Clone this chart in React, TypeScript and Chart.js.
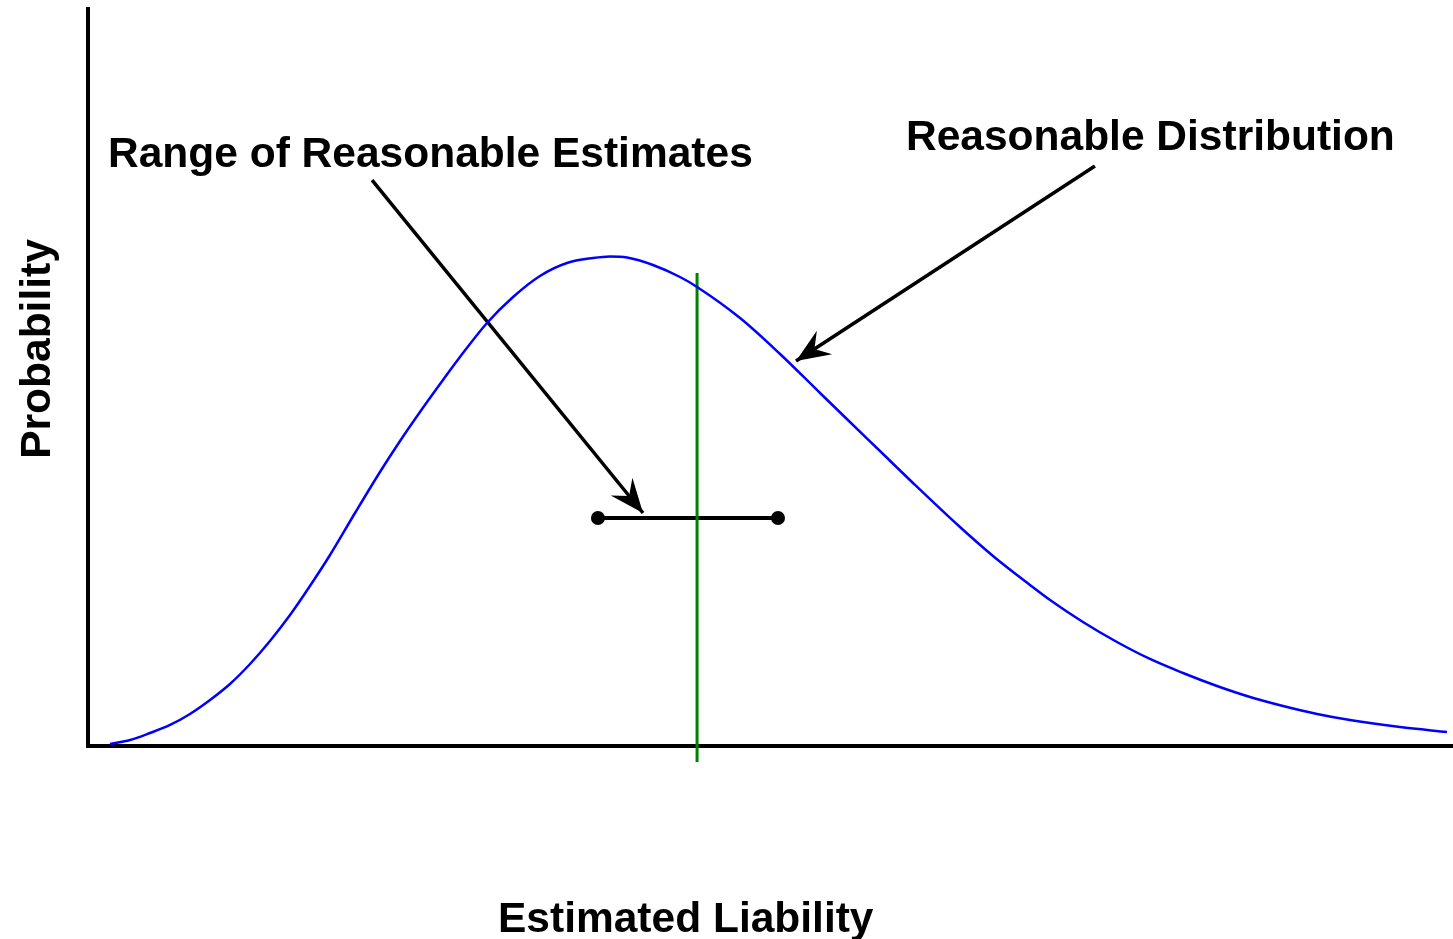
import React, { useEffect, useRef } from "react";
import { Chart, registerables } from "chart.js";

Chart.register(...registerables);

// Distribution curve (x: estimated liability, y: probability)
const curveX = [1.61, 3.08, 4.54, 6.01, 7.47, 8.94, 10.4, 11.87, 13.33, 14.8, 16.26, 17.73, 19.56, 21.39, 22.86, 24.32, 25.79, 27.25, 29.23, 31.14, 33.11, 35.09, 37.0, 38.24, 39.49, 41.39, 43.37, 44.62, 47.77, 50.7, 53.63, 55.82, 58.02, 60.44, 63.88, 66.3, 69.01, 70.48, 72.89, 75.38, 77.8, 80.22, 82.71, 85.13, 87.55, 90.04, 92.45, 96.12, 99.56];
const curveY = [0.27, 0.81, 1.76, 2.85, 4.34, 6.23, 8.4, 11.11, 14.23, 17.75, 21.68, 25.88, 31.57, 37.13, 41.33, 45.26, 49.05, 52.71, 57.32, 60.84, 63.69, 65.45, 66.12, 66.33, 66.19, 65.18, 63.55, 62.2, 57.99, 53.12, 47.83, 43.9, 39.97, 35.64, 29.67, 25.75, 21.82, 19.78, 16.8, 14.09, 11.79, 9.89, 8.13, 6.64, 5.42, 4.34, 3.52, 2.57, 1.9];

// Point estimate (green line)
const estimateX = 44.62;
const estimateY = [64.09, -2.17];

// Range of reasonable estimates
const rangeX = [37.36, 50.55];
const rangeY = 30.89;

// Arrows [fromX, fromY, toX, toY]
const arrowRange = [20.81, 76.69, 40.66, 31.57];
const arrowDist = [73.77, 78.59, 51.87, 52.17];

const labels = {
  range: "Range of Reasonable Estimates",
  dist: "Reasonable Distribution",
  xTitle: "Estimated Liability",
  yTitle: "Probability",
};

const FONT = 'bold 42.5px "Liberation Sans", Arial, sans-serif';

const overlayPlugin = {
  id: "overlay",
  beforeDatasetsDraw(chart: any) {
    const { ctx, chartArea } = chart;
    ctx.save();
    ctx.strokeStyle = "#000";
    ctx.lineWidth = 4;
    ctx.beginPath();
    ctx.moveTo(chartArea.left, chartArea.top - 1);
    ctx.lineTo(chartArea.left, chartArea.bottom + 2);
    ctx.moveTo(chartArea.left - 2, chartArea.bottom);
    ctx.lineTo(chartArea.right, chartArea.bottom);
    ctx.stroke();
    ctx.restore();
  },
  afterDatasetsDraw(chart: any) {
    const { ctx } = chart;
    const xs = chart.scales.x;
    const ys = chart.scales.y;
    const head = (a: number[]) => {
      const x0 = xs.getPixelForValue(a[0]);
      const y0 = ys.getPixelForValue(a[1]);
      const x1 = xs.getPixelForValue(a[2]);
      const y1 = ys.getPixelForValue(a[3]);
      const ang = Math.atan2(y1 - y0, x1 - x0);
      const L = 34;
      const W = 14;
      const N = 22;
      const cos = Math.cos(ang);
      const sin = Math.sin(ang);
      const bx = x1 - L * cos;
      const by = y1 - L * sin;
      const nx = x1 - N * cos;
      const ny = y1 - N * sin;
      ctx.save();
      ctx.fillStyle = "#000";
      ctx.beginPath();
      ctx.moveTo(x1, y1);
      ctx.lineTo(bx - W * sin, by + W * cos);
      ctx.lineTo(nx, ny);
      ctx.lineTo(bx + W * sin, by - W * cos);
      ctx.closePath();
      ctx.fill();
      ctx.restore();
    };
    head(arrowRange);
    head(arrowDist);

    ctx.save();
    ctx.fillStyle = "#000";
    ctx.font = FONT;
    ctx.textBaseline = "alphabetic";
    ctx.textAlign = "left";
    ctx.fillText(labels.range, 108, 167);
    ctx.fillText(labels.dist, 906, 150);
    ctx.fillText(labels.xTitle, 498, 932);
    ctx.translate(50, 349);
    ctx.rotate(-Math.PI / 2);
    ctx.textAlign = "center";
    ctx.fillText(labels.yTitle, 0, 0);
    ctx.restore();
  },
};

export default function App() {
  const ref = useRef<HTMLCanvasElement | null>(null);
  useEffect(() => {
    if (!ref.current) return;
    const chart = new Chart(ref.current, {
      type: "scatter",
      data: {
        datasets: [
          {
            data: curveX.map((x, i) => ({ x, y: curveY[i] })),
            showLine: true,
            borderColor: "#0000ff",
            borderWidth: 2.5,
            pointRadius: 0,
            cubicInterpolationMode: "monotone",
            fill: false,
          },
          {
            data: estimateY.map((y) => ({ x: estimateX, y })),
            showLine: true,
            borderColor: "#008000",
            borderWidth: 3,
            pointRadius: 0,
            clip: false,
          } as any,
          {
            data: rangeX.map((x) => ({ x, y: rangeY })),
            showLine: true,
            borderColor: "#000",
            backgroundColor: "#000",
            borderWidth: 4,
            pointRadius: 7,
            pointBorderWidth: 0,
          },
          {
            data: [
              { x: arrowRange[0], y: arrowRange[1] },
              { x: arrowRange[2], y: arrowRange[3] },
            ],
            showLine: true,
            borderColor: "#000",
            borderWidth: 3.5,
            pointRadius: 0,
          },
          {
            data: [
              { x: arrowDist[0], y: arrowDist[1] },
              { x: arrowDist[2], y: arrowDist[3] },
            ],
            showLine: true,
            borderColor: "#000",
            borderWidth: 3.5,
            pointRadius: 0,
          },
        ],
      },
      options: {
        responsive: false,
        animation: false,
        devicePixelRatio: 1,
        layout: { autoPadding: false, padding: { left: 88, top: 8, right: 0, bottom: 193 } },
        plugins: { legend: { display: false }, tooltip: { enabled: false } },
        events: [],
        scales: {
          x: { type: "linear", min: 0, max: 100, display: false },
          y: { type: "linear", min: 0, max: 100, display: false },
        },
      },
      plugins: [overlayPlugin],
    });
    return () => chart.destroy();
  }, []);
  return (
    <div style={{ position: "fixed", left: 0, top: 0, width: 1453, height: 939, background: "#fff" }}>
      <canvas ref={ref} width={1453} height={939} style={{ width: 1453, height: 939, display: "block" }} />
    </div>
  );
}
